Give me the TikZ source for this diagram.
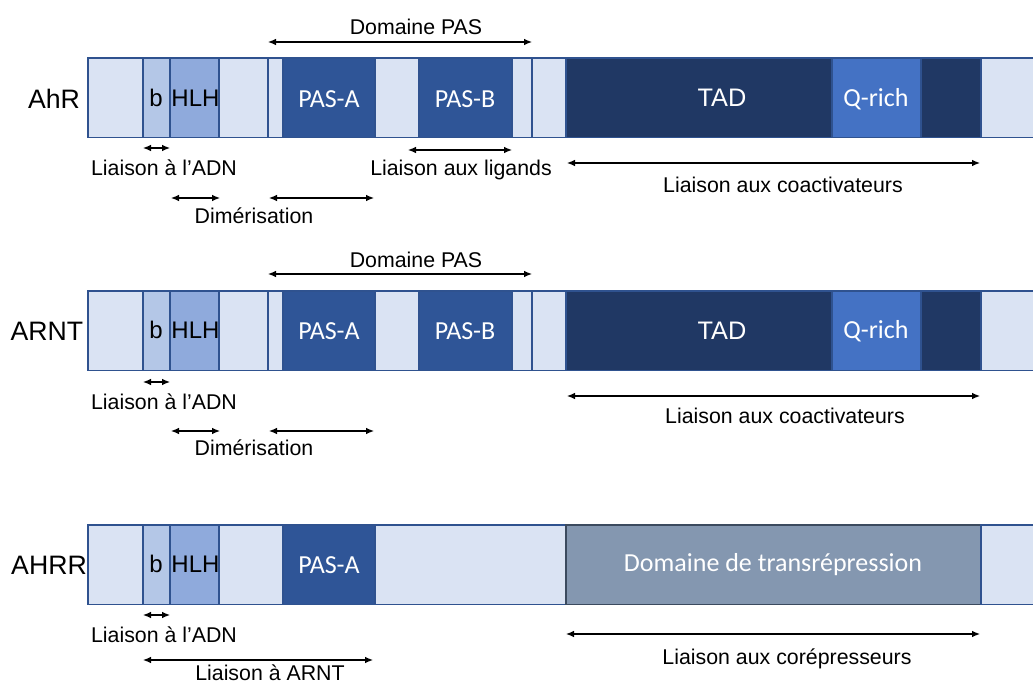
\documentclass[tikz,border=0pt]{standalone}
\usepackage{fontspec}
\setmainfont{Liberation Sans}
\newfontfamily\calib{Carlito}
\usetikzlibrary{arrows.meta}
\definecolor{lightseg}{HTML}{DAE3F3}
\definecolor{bseg}{HTML}{B4C7E7}
\definecolor{hlhseg}{HTML}{8FAADC}
\definecolor{passeg}{HTML}{2F5597}
\definecolor{tadseg}{HTML}{203864}
\definecolor{qseg}{HTML}{4472C4}
\definecolor{repseg}{HTML}{8497B0}
\definecolor{segedge}{HTML}{2F528F}
\definecolor{repedge}{HTML}{3B4A5E}
\newcommand\Seg[6][segedge]{\node[segbox,draw=#1,fill=#6,minimum width={(#4-#3)*0.75pt}] (#2) at (#3,#5) {};}
\begin{document}
\begin{tikzpicture}[x=0.75pt,y=-0.75pt,
  segbox/.style={rectangle,anchor=north west,inner sep=0pt,outer sep=0pt,line width=0.8pt,minimum height=79.5*0.75pt},
  lbl/.style={inner sep=0pt,font=\fontsize{16}{18}\selectfont},
  protname/.style={inner sep=0pt,font=\fontsize{20}{22}\selectfont},
  darktxt/.style={inner sep=0pt,font=\fontsize{18}{20}\selectfont},
  whitetxt/.style={inner sep=0pt,text=white,font=\calib\fontsize{19.5}{21}\selectfont},
  tadtxt/.style={inner sep=0pt,text=white,font=\fontsize{19}{21}\selectfont},
  dbl/.style={{Latex[length=6pt,width=5pt]}-{Latex[length=6pt,width=5pt]},line width=0.9pt}]
\useasboundingbox (0,0) rectangle (1033,684);
% ---------------- Row 1 : AhR ----------------
\Seg{r1a}{88}{143}{58}{lightseg}
\Seg{r1b}{143}{170}{58}{bseg}
\Seg{r1c}{170}{219}{58}{hlhseg}
\Seg{r1d}{219}{268}{58}{lightseg}
\Seg{r1e}{268}{283}{58}{lightseg}
\Seg{r1f}{283}{375}{58}{passeg}
\Seg{r1g}{375}{419}{58}{lightseg}
\Seg{r1h}{419}{512}{58}{passeg}
\Seg{r1i}{512}{532}{58}{lightseg}
\Seg{r1j}{532}{566}{58}{lightseg}
\Seg{r1k}{566}{832}{58}{tadseg}
\Seg{r1l}{832}{921}{58}{qseg}
\Seg{r1m}{921}{981}{58}{tadseg}
\Seg{r1n}{981}{1040}{58}{lightseg}
\node[protname] (n1) at (54,99) {AhR};
\node[darktxt] (t1b) at (156,98) {b};
\node[darktxt] (t1hlh) at (195.5,98) {HLH};
\node[whitetxt] (t1pa) at (329,99) {PAS-A};
\node[whitetxt] (t1pb) at (465,99) {PAS-B};
\node[tadtxt] (t1tad) at (722,98) {TAD};
\node[whitetxt] (t1q) at (876,99) {Q-rich};
\coordinate (p1a) at (268,42); \coordinate (p1b) at (532,42);
\draw[dbl] (p1a) -- (p1b);
\node[lbl] (l1pas) at (416,27) {Domaine PAS};
\coordinate (d1a) at (143,148); \coordinate (d1b) at (170,148);
\draw[dbl] (d1a) -- (d1b);
\node[lbl] (l1adn) at (164,168) {Liaison à l’ADN};
\coordinate (m1a) at (171,198); \coordinate (m1b) at (220,198);
\coordinate (m1c) at (269,198); \coordinate (m1d) at (374,198);
\draw[dbl] (m1a) -- (m1b);
\draw[dbl] (m1c) -- (m1d);
\node[lbl] (l1dim) at (254,216) {Dimérisation};
\coordinate (g1a) at (408,150); \coordinate (g1b) at (512,150);
\draw[dbl] (g1a) -- (g1b);
\node[lbl] (l1lig) at (461,170) {Liaison aux ligands};
\coordinate (c1a) at (567,163); \coordinate (c1b) at (980,163);
\draw[dbl] (c1a) -- (c1b);
\node[lbl] (l1coa) at (783,185) {Liaison aux coactivateurs};
% ---------------- Row 2 : ARNT ----------------
\Seg{r2a}{88}{143}{291}{lightseg}
\Seg{r2b}{143}{170}{291}{bseg}
\Seg{r2c}{170}{219}{291}{hlhseg}
\Seg{r2d}{219}{268}{291}{lightseg}
\Seg{r2e}{268}{283}{291}{lightseg}
\Seg{r2f}{283}{375}{291}{passeg}
\Seg{r2g}{375}{419}{291}{lightseg}
\Seg{r2h}{419}{512}{291}{passeg}
\Seg{r2i}{512}{532}{291}{lightseg}
\Seg{r2j}{532}{566}{291}{lightseg}
\Seg{r2k}{566}{832}{291}{tadseg}
\Seg{r2l}{832}{921}{291}{qseg}
\Seg{r2m}{921}{981}{291}{tadseg}
\Seg{r2n}{981}{1040}{291}{lightseg}
\node[protname] (n2) at (47,331) {ARNT};
\node[darktxt] (t2b) at (156,330) {b};
\node[darktxt] (t2hlh) at (195.5,330) {HLH};
\node[whitetxt] (t2pa) at (329,331) {PAS-A};
\node[whitetxt] (t2pb) at (465,331) {PAS-B};
\node[tadtxt] (t2tad) at (722,331) {TAD};
\node[whitetxt] (t2q) at (876,331) {Q-rich};
\coordinate (p2a) at (268,274); \coordinate (p2b) at (532,274);
\draw[dbl] (p2a) -- (p2b);
\node[lbl] (l2pas) at (416,260) {Domaine PAS};
\coordinate (d2a) at (143,382); \coordinate (d2b) at (170,382);
\draw[dbl] (d2a) -- (d2b);
\node[lbl] (l2adn) at (164,402) {Liaison à l’ADN};
\coordinate (m2a) at (171,431); \coordinate (m2b) at (220,431);
\coordinate (m2c) at (269,431); \coordinate (m2d) at (374,431);
\draw[dbl] (m2a) -- (m2b);
\draw[dbl] (m2c) -- (m2d);
\node[lbl] (l2dim) at (254,448) {Dimérisation};
\coordinate (c2a) at (567,396); \coordinate (c2b) at (980,396);
\draw[dbl] (c2a) -- (c2b);
\node[lbl] (l2coa) at (785,416) {Liaison aux coactivateurs};
% ---------------- Row 3 : AHRR ----------------
\Seg{r3a}{88}{143}{525}{lightseg}
\Seg{r3b}{143}{170}{525}{bseg}
\Seg{r3c}{170}{219}{525}{hlhseg}
\Seg{r3d}{219}{283}{525}{lightseg}
\Seg{r3f}{283}{375}{525}{passeg}
\Seg{r3g}{375}{566}{525}{lightseg}
\Seg[repedge]{r3k}{566}{981}{525}{repseg}
\Seg{r3n}{981}{1040}{525}{lightseg}
\node[protname] (n3) at (49,565) {AHRR};
\node[darktxt] (t3b) at (156,564) {b};
\node[darktxt] (t3hlh) at (195.5,564) {HLH};
\node[whitetxt] (t3pa) at (329,565) {PAS-A};
\node[whitetxt] (t3rep) at (773,565) {Domaine de transrépression};
\coordinate (d3a) at (143,615); \coordinate (d3b) at (170,615);
\draw[dbl] (d3a) -- (d3b);
\node[lbl] (l3adn) at (164,635) {Liaison à l’ADN};
\coordinate (a3a) at (143,660); \coordinate (a3b) at (373,660);
\draw[dbl] (a3a) -- (a3b);
\node[lbl] (l3arnt) at (270,673) {Liaison à ARNT};
\coordinate (c3a) at (566,634); \coordinate (c3b) at (980,634);
\draw[dbl] (c3a) -- (c3b);
\node[lbl] (l3cor) at (787,659) {Liaison aux corépresseurs};
\end{tikzpicture}
\end{document}
